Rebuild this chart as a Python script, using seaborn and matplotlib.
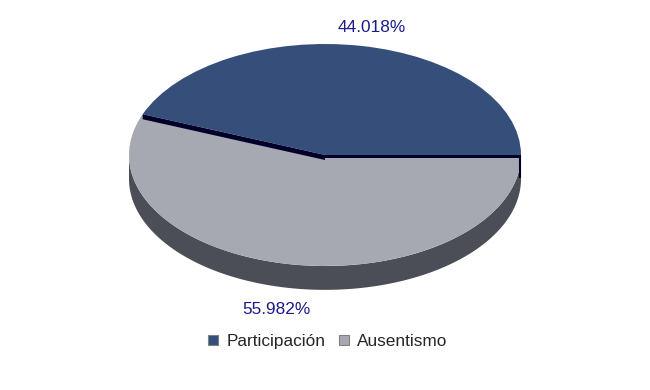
import numpy as np
import matplotlib
matplotlib.use("Agg")
import matplotlib.pyplot as plt
from matplotlib.lines import Line2D
from matplotlib.patches import Polygon
import seaborn as sns

categories = ["Participación", "Ausentismo"]
values = [44.018, 55.982]
colors = ["#354E7A", "#A6A9B1"]
side_color = "#4B4E57"
edge_dark = "#00002A"
label_color = "#1A1A8C"

sns.set_theme(style="white")
plt.rcParams['font.family'] = ['Liberation Sans', 'DejaVu Sans']

W, H = 650, 390
cx, cy, rx, ry = 325, 155, 196, 111
fig = plt.figure(figsize=(6.5, 3.9), dpi=100)
ax = fig.add_axes([0, 0, 1, 1])

depth = 0.215
# side wall (front half)
th = np.linspace(np.pi, 2 * np.pi, 200)
top = np.column_stack([np.cos(th), np.sin(th)])
bot = np.column_stack([np.cos(th[::-1]), np.sin(th[::-1]) - depth])
ax.add_patch(Polygon(np.vstack([top, bot]), closed=True, facecolor=side_color,
                     edgecolor="none", zorder=1))

wedges, _ = ax.pie(values, colors=colors, startangle=0, counterclock=True,
                   radius=1, center=(0, 0), wedgeprops=dict(linewidth=0),
                   frame=True)
for w in wedges:
    w.set_zorder(2)
ax.set_aspect('auto')
ax.set_xlim((0 - cx) / rx, (W - cx) / rx)
ax.set_ylim((cy - H) / ry, (cy - 0) / ry)
ax.axis('off')

# dark cut faces of first slice
a1 = np.deg2rad(values[0] / sum(values) * 360)
for ang, t in [(a1, 0.045), (0.0, 0.025)]:
    pts = [(0, 0), (np.cos(ang), np.sin(ang)), (np.cos(ang), np.sin(ang) - t), (0, -t)]
    ax.add_patch(Polygon(pts, closed=True, facecolor=edge_dark, edgecolor="none", zorder=3))
ax.plot([0.995, 0.995], [0, -depth * 0.95], color=edge_dark, lw=1.5, zorder=3,
        solid_capstyle='butt')

# percentage labels
ax.text((372 - cx) / rx, (cy - 28) / ry, f"{values[0]:.3f}%", color=label_color,
        fontsize=12.4, ha="center", va="center", zorder=5)
ax.text((276 - cx) / rx, (cy - 310) / ry, f"{values[1]:.3f}%", color=label_color,
        fontsize=12.4, ha="center", va="center", zorder=5)

handles = [Line2D([0], [0], marker='s', linestyle='none', markersize=6.5,
                  markerfacecolor=c, markeredgecolor="#808080", markeredgewidth=0.8)
           for c in colors]
fig.legend(handles, categories, loc="center", bbox_to_anchor=(326 / W, 1 - 341 / H),
           ncol=2, frameon=False, fontsize=12.4, handletextpad=0.3,
           columnspacing=0.55, handlelength=1.0)

fig.savefig("out.png", dpi=100, facecolor="white")
